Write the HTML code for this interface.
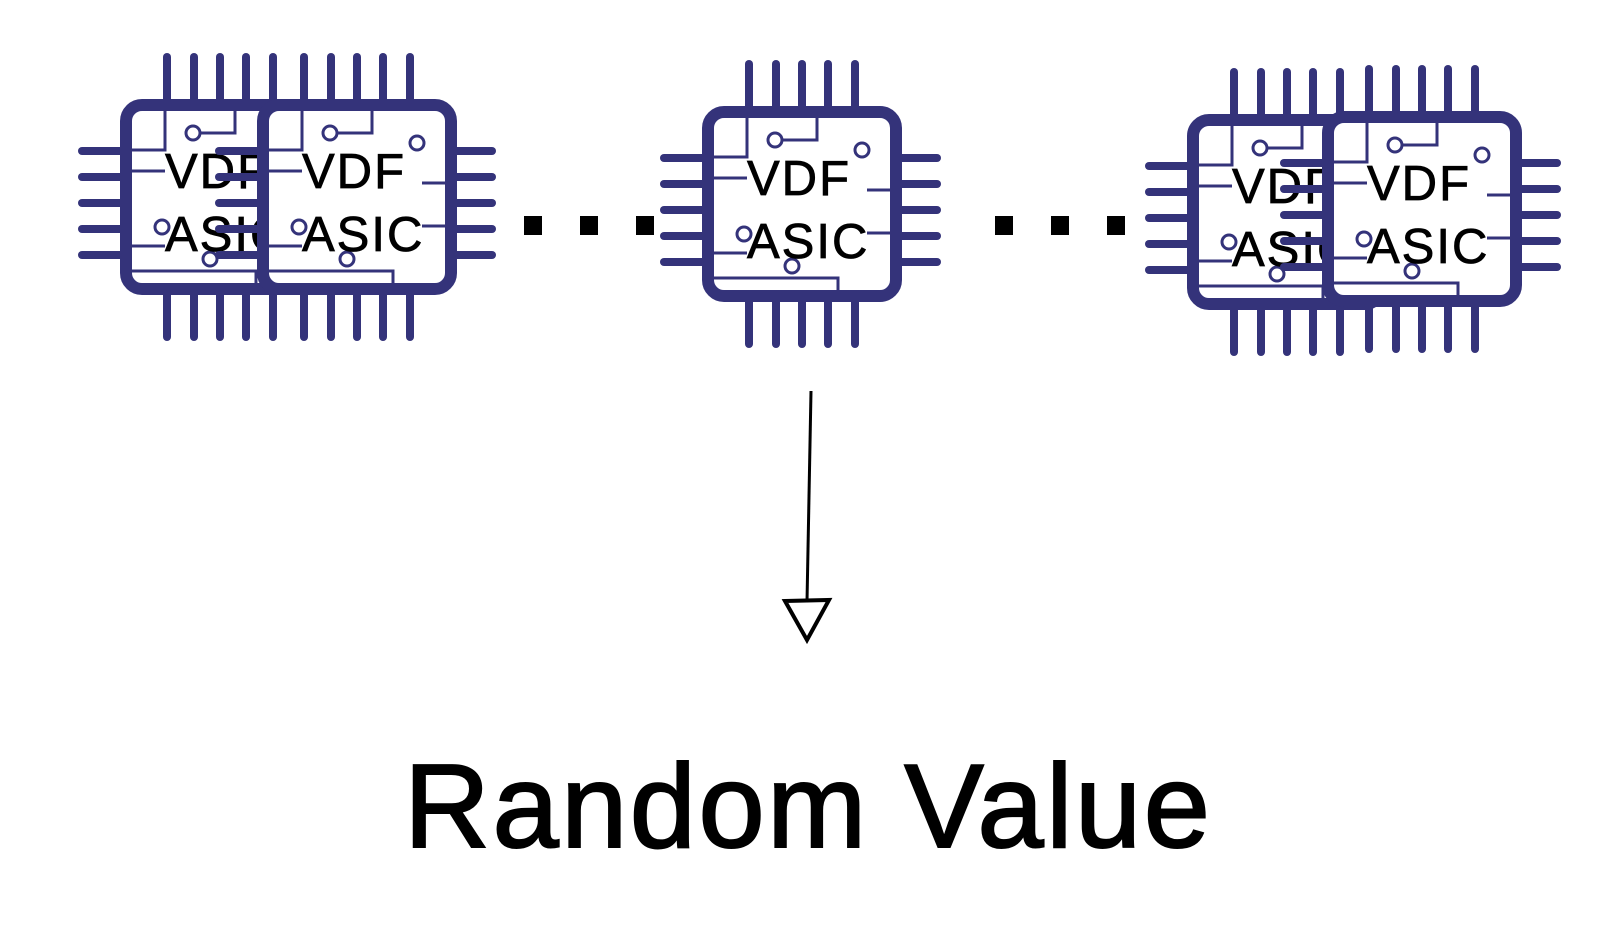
<!DOCTYPE html>
<html><head><meta charset="utf-8"><style>
html,body{margin:0;padding:0;background:#fff;}
svg{display:block;}
.t{font-family:"Liberation Sans",sans-serif;fill:#000;stroke:#000;stroke-width:0.8;}
.big{stroke-width:2;}
</style></head><body>
<svg width="1605" height="948" viewBox="0 0 1605 948" xmlns="http://www.w3.org/2000/svg">
<defs>
<g id="chip">
  <g stroke="#34337a" stroke-width="8" stroke-linecap="round">
    <line x1="-53" y1="-140" x2="-53" y2="-96"/><line x1="-26" y1="-140" x2="-26" y2="-96"/><line x1="0" y1="-140" x2="0" y2="-96"/><line x1="26" y1="-140" x2="26" y2="-96"/><line x1="53" y1="-140" x2="53" y2="-96"/>
    <line x1="-53" y1="140" x2="-53" y2="96"/><line x1="-26" y1="140" x2="-26" y2="96"/><line x1="0" y1="140" x2="0" y2="96"/><line x1="26" y1="140" x2="26" y2="96"/><line x1="53" y1="140" x2="53" y2="96"/>
    <line x1="-138" y1="-46" x2="-98" y2="-46"/><line x1="-138" y1="-20" x2="-98" y2="-20"/><line x1="-138" y1="6" x2="-98" y2="6"/><line x1="-138" y1="32" x2="-98" y2="32"/><line x1="-138" y1="58" x2="-98" y2="58"/>
    <line x1="135" y1="-46" x2="98" y2="-46"/><line x1="135" y1="-20" x2="98" y2="-20"/><line x1="135" y1="6" x2="98" y2="6"/><line x1="135" y1="32" x2="98" y2="32"/><line x1="135" y1="58" x2="98" y2="58"/>
  </g>
  <rect x="-94" y="-92" width="188" height="184" rx="16" fill="#fff" stroke="#34337a" stroke-width="12"/>
  <g stroke="#34337a" stroke-width="3" fill="none">
    <circle cx="-27" cy="-64" r="7"/>
    <polyline points="-20,-64 15,-64 15,-88"/>
    <circle cx="60" cy="-54" r="7"/>
    <polyline points="-55,-88 -55,-47 -88,-47"/>
    <line x1="-88" y1="-26" x2="-55" y2="-26"/>
    <line x1="-88" y1="49" x2="-55" y2="49"/>
    <polyline points="-88,74 36,74 36,88"/>
    <line x1="65" y1="-14" x2="88" y2="-14"/>
    <line x1="65" y1="29" x2="88" y2="29"/>
    <circle cx="-58" cy="30" r="7"/>
    <circle cx="-10" cy="62" r="7"/>
  </g>
</g>
</defs>

<use href="#chip" transform="translate(220,197)"/>
<text class="t" x="165" y="188" font-size="49" letter-spacing="2">VDF</text>
<text class="t" x="165" y="251" font-size="49" letter-spacing="2">ASIC</text>
<use href="#chip" transform="translate(357,197)"/>
<text class="t" x="302" y="188" font-size="49" letter-spacing="2">VDF</text>
<text class="t" x="302" y="251" font-size="49" letter-spacing="2">ASIC</text>

<use href="#chip" transform="translate(802,204)"/>
<text class="t" x="747" y="195" font-size="49" letter-spacing="2">VDF</text>
<text class="t" x="747" y="258" font-size="49" letter-spacing="2">ASIC</text>

<use href="#chip" transform="translate(1287,212)"/>
<text class="t" x="1232" y="203" font-size="49" letter-spacing="2">VDF</text>
<text class="t" x="1232" y="266" font-size="49" letter-spacing="2">ASIC</text>
<use href="#chip" transform="translate(1422,209)"/>
<text class="t" x="1367" y="200" font-size="49" letter-spacing="2">VDF</text>
<text class="t" x="1367" y="263" font-size="49" letter-spacing="2">ASIC</text>

<g fill="#000">
  <rect x="524" y="216" width="18" height="19"/><rect x="580" y="216" width="18" height="19"/><rect x="636" y="216" width="18" height="19"/>
  <rect x="995" y="216" width="18" height="19"/><rect x="1051" y="216" width="18" height="19"/><rect x="1107" y="216" width="18" height="19"/>
</g>

<path d="M811,391 L807,602" stroke="#000" stroke-width="3" fill="none"/>
<path d="M785,601 L829,600 L807,640 Z" stroke="#000" stroke-width="4" fill="#fff" stroke-linejoin="miter"/>

<text class="t big" x="404" y="847" font-size="119" letter-spacing="2.5">Random Value</text>
</svg>
</body></html>
